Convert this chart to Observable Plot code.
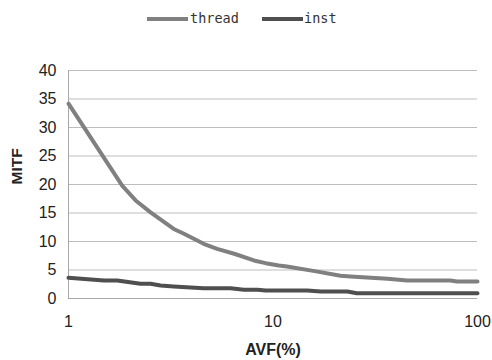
<!DOCTYPE html>
<html>
<head>
<meta charset="utf-8">
<script src="https://cdn.jsdelivr.net/npm/d3@7"></script>
<script src="https://cdn.jsdelivr.net/npm/@observablehq/plot@0.6"></script>
<style>
  html, body { margin: 0; padding: 0; background: #fff; }
  #legend { position: relative; width: 492px; height: 38px; font-family: "DejaVu Sans Mono", monospace; font-size: 13.5px; color: #333; }
  .sw { position: absolute; top: 17px; width: 41px; height: 4px; }
  .lb { position: absolute; top: 10px; line-height: 16px; }
</style>
</head>
<body>
<div id="legend"></div>
<div id="chart"></div>
<script>
const seriesNames = ["thread", "inst"];
const seriesColors = ["#808080", "#4f4f4f"];

const threadX = [1, 1.83, 2.13, 2.52, 3.27, 3.67, 4.58, 5.33, 6.46, 8.07, 9.2, 10.67, 11.7, 16, 21.4, 23.9, 36.3, 45.3, 73.6, 79.4, 100];
const threadY = [34.2, 19.8, 17.2, 15.1, 12.2, 11.35, 9.6, 8.7, 7.85, 6.67, 6.2, 5.8, 5.6, 4.8, 4.0, 3.86, 3.45, 3.16, 3.16, 2.98, 2.98];

const instX = [1, 1.49, 1.73, 2.25, 2.52, 2.82, 3.27, 4.58, 6.2, 7.2, 8.4, 9.2, 14.7, 17.1, 23.1, 25.7, 100];
const instY = [3.63, 3.16, 3.16, 2.58, 2.58, 2.28, 2.1, 1.8, 1.8, 1.53, 1.53, 1.4, 1.4, 1.23, 1.23, 0.93, 0.93];

const xTicks = [1, 10, 100];
const yTicks = [0, 5, 10, 15, 20, 25, 30, 35, 40];

const data = [
  ...threadX.map((x, i) => ({series: "thread", x, y: threadY[i]})),
  ...instX.map((x, i) => ({series: "inst", x, y: instY[i]}))
];

// legend
const legend = document.getElementById("legend");
const legendPos = [[147, 190], [262, 304]];
seriesNames.forEach((name, i) => {
  const sw = document.createElement("div");
  sw.className = "sw";
  sw.style.left = legendPos[i][0] + "px";
  sw.style.background = seriesColors[i];
  legend.appendChild(sw);
  const lb = document.createElement("div");
  lb.className = "lb";
  lb.style.left = legendPos[i][1] + "px";
  lb.textContent = name;
  legend.appendChild(lb);
});

const chart = Plot.plot({
  width: 492,
  height: 322,
  marginTop: 32,
  marginBottom: 62,
  marginLeft: 68,
  marginRight: 15,
  style: {fontFamily: "'Liberation Sans', Arial, sans-serif", fontSize: "16px", color: "#222", background: "#fff"},
  x: {type: "log", domain: [1, 100]},
  y: {domain: [0, 40]},
  color: {domain: seriesNames, range: seriesColors},
  marks: [
    Plot.gridY(yTicks, {stroke: "#bdbdbd", strokeOpacity: 1, strokeWidth: 1}),
    Plot.ruleX([1], {stroke: "#a8a8a8", strokeWidth: 1}),
    Plot.ruleY([0], {stroke: "#a8a8a8", strokeWidth: 1}),
    Plot.axisY({ticks: yTicks, tickSize: 0, tickPadding: 12, label: null, fontSize: 16}),
    Plot.axisX({ticks: xTicks, tickSize: 0, tickPadding: 17, tickFormat: d => String(d), label: null, fontSize: 16}),
    Plot.line(data, {x: "x", y: "y", z: "series", stroke: "series", strokeWidth: 4, curve: "linear", strokeLinejoin: "round"}),
    Plot.text(["MITF"], {frameAnchor: "left", dx: -51, rotate: -90, fontWeight: "bold", fontSize: 15.5, fill: "#222"}),
    Plot.text(["AVF(%)"], {frameAnchor: "bottom", dy: 56, fontWeight: "bold", fontSize: 16, fill: "#222"})
  ]
});
document.getElementById("chart").appendChild(chart);
</script>
</body>
</html>
